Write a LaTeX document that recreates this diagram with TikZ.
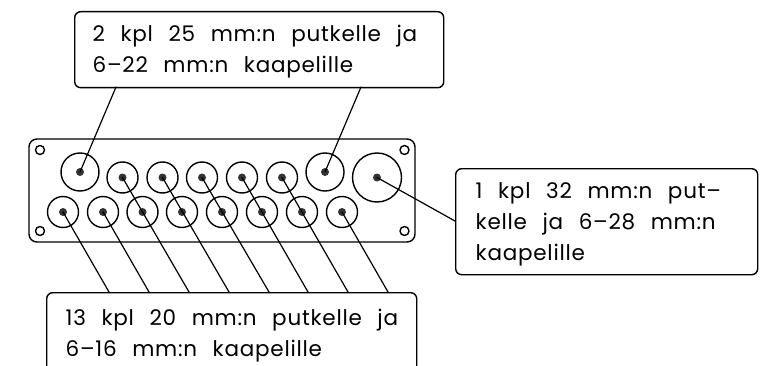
\documentclass[tikz,border=0pt]{standalone}
\usepackage{fontspec}
\setmainfont[LetterSpace=3.5,WordSpace=2.4]{Poppins}
\tikzset{
	plate/.style={draw,line width=1.4pt,rounded corners=8pt},
	hole/.style={draw,circle,line width=1.4pt,inner sep=0pt,minimum size=#1},
	dot/.style={fill=black!80,circle,inner sep=0pt,minimum size=8pt},
	leader/.style={line width=1.2pt},
	note/.style={draw,line width=1.4pt,rounded corners=6pt,inner sep=0pt,align=flush left,font=\fontsize{21.5}{31}\selectfont,anchor=north west},
}
\begin{document}
\begin{tikzpicture}[x=1pt,y=-1pt,line join=round,line cap=round]
	\useasboundingbox (0,0) rectangle (775,366);
	\clip (0,0) rectangle (775,366);
	\draw[plate] (29,139) rectangle (415,242);
	%kiinnitysreiat
	\foreach \x/\y in {40/150,404.5/150,40/231,404.5/231}
		\node[hole=9pt] at (\x,\y) {};
	%ylarivi
	\foreach \name/\x/\y/\d in {a/80/172/38,b/122.5/177.5/31,c/162.5/177.5/31,d/202/177.5/31,e/242/177.5/31,f/282/177.5/31,g/325/172/38,h/377/177.5/49}{
		\node[hole=\d pt] (\name) at (\x,\y) {};
		\node[dot] (\name0) at (\x,\y) {};
	}
	%alarivi
	\foreach \name/\x in {k/63,l/103,m/142.5,n/182,o/222,p/262,q/302,r/342}{
		\node[hole=31pt] (\name) at (\x,212) {};
		\node[dot] (\name0) at (\x,212) {};
	}
	%tekstit
	\node[note,minimum width=369pt,minimum height=76pt,text width=333pt] (top) at (74,11) {\rule{0pt}{20pt}\mbox{2 kpl 25 mm:n putkelle ja}\\6–22 mm:n kaapelille};
	\node[note,minimum width=302pt,minimum height=106pt,text width=262pt] (side) at (455,168) {\rule{0pt}{22pt}\mbox{1 kpl 32 mm:n put–}\\\mbox{kelle ja 6–28 mm:n}\\kaapelille};
	\node[note,minimum width=370pt,minimum height=85pt,text width=332pt] (bot) at (46,292) {\mbox{13 kpl 20 mm:n putkelle ja}\\6–16 mm:n kaapelille};
	%viivat
	\draw[leader] (a0.center)--(116,87);
	\draw[leader] (g0.center)--(361,87);
	\draw[leader] (h0.center)--(455,221);
	\foreach \name/\x in {k0/109,l0/149,b0/189,c0/229,d0/269,e0/308,f0/348,r0/388}
		\draw[leader] (\name.center)--(\x,292);
\end{tikzpicture}
\end{document}
